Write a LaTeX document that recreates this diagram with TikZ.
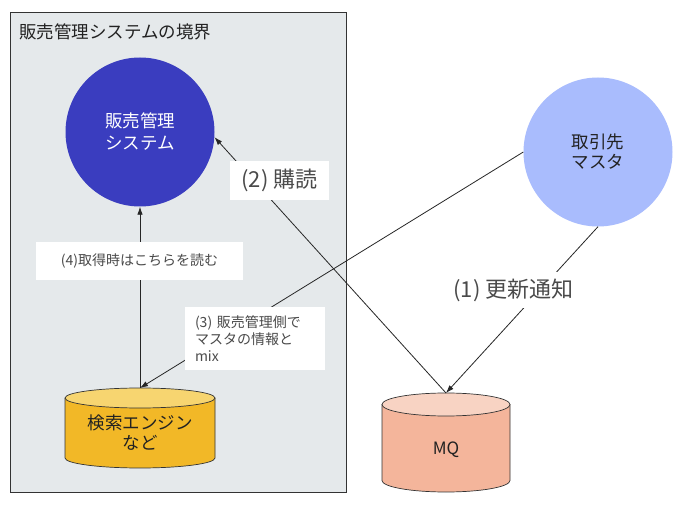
\documentclass[tikz,border=0pt]{standalone}
\usepackage{fontspec}
\setmainfont{Noto Sans CJK JP}
\usetikzlibrary{arrows.meta}
\definecolor{boundfill}{HTML}{E5E9EB}
\definecolor{bordergray}{HTML}{333333}
\definecolor{salesblue}{HTML}{3A3DBF}
\definecolor{tmblue}{HTML}{A9BCFD}
\definecolor{searchbody}{HTML}{F2B827}
\definecolor{searchtopc}{HTML}{F7D570}
\definecolor{mqbody}{HTML}{F4B59B}
\definecolor{mqtopc}{HTML}{F8D3C3}
\definecolor{txt}{HTML}{222222}
\definecolor{labtxt}{HTML}{4A4A4A}
\tikzset{
  conn/.style={draw=black!85, line width=0.8pt, -{Latex[length=8pt,width=5.5pt]}},
  lab/.style={fill=white, text=labtxt, inner sep=0pt},
  bignode/.style={circle, minimum size=149pt, inner sep=0pt, align=center, font=\fontsize{17.5}{22}\selectfont},
  cylline/.style={draw=bordergray, line width=0.7pt},
}
\begin{document}
\begin{tikzpicture}[x=1pt,y=1pt]
\useasboundingbox (0,0) rectangle (686,504);
\fill[white] (0,0) rectangle (686,504);
% boundary
\draw[draw=bordergray, fill=boundfill, line width=0.8pt] (10,12) rectangle (346,492);
\node[anchor=west, text=txt, inner sep=0pt, font=\fontsize{17.5}{20}\selectfont] (title) at (19,472) {販売管理システムの境界};
% circles
\node[bignode, fill=salesblue, text=white] (sales) at (140,372) {販売管理\\システム};
\node[bignode, fill=tmblue, text=txt, font=\fontsize{17.5}{20}\selectfont] (tm) at (598,352) {取引先\\マスタ};
% search cylinder
\fill[searchbody] (65,106) -- (65,46) arc[start angle=180, end angle=360, x radius=75, y radius=10] -- (215,106) -- cycle;
\draw[cylline] (65,106) -- (65,46) arc[start angle=180, end angle=360, x radius=75, y radius=10] -- (215,106);
\filldraw[fill=searchtopc, cylline] (140,106) ellipse [x radius=75, y radius=10];
\node[align=center, text=txt, inner sep=0pt, font=\fontsize{17.5}{20}\selectfont] (search) at (140,71) {検索エンジン\\など};
\coordinate (searchtop) at (140,116);
% MQ cylinder
\fill[mqbody] (382,99.5) -- (382,23.5) arc[start angle=180, end angle=360, x radius=64, y radius=11.5] -- (510,99.5) -- cycle;
\draw[cylline] (382,99.5) -- (382,23.5) arc[start angle=180, end angle=360, x radius=64, y radius=11.5] -- (510,99.5);
\filldraw[fill=mqtopc, cylline] (446,99.5) ellipse [x radius=64, y radius=11.5];
\node[text=txt, inner sep=0pt, font=\fontsize{17}{20}\selectfont] (mq) at (446,54) {MQ};
\coordinate (mqtop) at (446,111);
% connectors
\draw[conn] (tm.south) -- (mqtop);
\draw[conn] (mqtop) -- (sales.-4);
\draw[conn] (tm.west) -- (searchtop);
\draw[conn] (searchtop) -- (sales.south);
% labels
\node[lab, font=\fontsize{22}{26}\selectfont, minimum height=36pt, inner xsep=3pt] (l1) at (513.5,214) {(1) 更新通知};
\node[lab, font=\fontsize{22}{26}\selectfont, minimum width=99pt, minimum height=39pt] (l2) at (279.5,323.5) {(2) 購読};
\node[lab, font=\fontsize{14}{17}\selectfont, minimum width=207pt, minimum height=38pt] (l4) at (139.5,243) {(4)取得時はこちらを読む};
\node[lab, font=\fontsize{14}{17}\selectfont, align=left, text width=120pt, minimum height=63pt, inner xsep=10pt] (l3) at (255,165.5) {(3) 販売管理側で\\マスタの情報と\\mix};
\end{tikzpicture}
\end{document}
